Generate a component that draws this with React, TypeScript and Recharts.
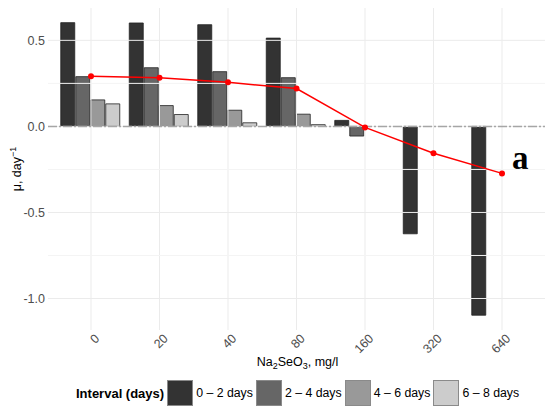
import {
	Bar,
	ComposedChart,
	Customized,
	Line,
	ReferenceLine,
	XAxis,
	YAxis,
} from "recharts";

// Na2SeO3 concentration, mg/l
const doses = ["0", "20", "40", "80", "160", "320", "640"];

// specific growth rate per interval, day^-1 (null = no bar)
const interval02 = [0.603, 0.601, 0.591, 0.513, 0.035, -0.624, -1.097];
const interval24 = [0.289, 0.341, 0.318, 0.283, -0.056, null, null];
const interval46 = [0.154, 0.121, 0.094, 0.071, null, null, null];
const interval68 = [0.131, 0.069, 0.021, 0.01, null, null, null];

// overall mean rate (red line)
const meanRate = [0.291, 0.283, 0.256, 0.22, -0.006, -0.156, -0.273];

const yTicks = [-1, -0.5, 0, 0.5];
const yMinor = [-0.75, -0.25, 0.25];

const intervals = [
	{ key: "i02", label: "0 – 2 days", fill: "#333333" },
	{ key: "i24", label: "2 – 4 days", fill: "#666666" },
	{ key: "i46", label: "4 – 6 days", fill: "#999999" },
	{ key: "i68", label: "6 – 8 days", fill: "#cccccc" },
];

const data = doses.map((dose, i) => ({
	dose,
	i02: interval02[i],
	i24: interval24[i],
	i46: interval46[i],
	i68: interval68[i],
	mean: meanRate[i],
}));

const FONT = "'Liberation Sans', Arial, sans-serif";

const XTick = ({ x, y, payload }: any) => (
	<text
		x={x + 3}
		y={y}
		transform={`rotate(-45 ${x + 3} ${y})`}
		textAnchor="end"
		dy="0.71em"
		fontSize={12.5}
		fontFamily={FONT}
		fill="#4d4d4d"
	>
		{payload.value}
	</text>
);

const XTitle = ({ viewBox }: any) => {
	const cx = viewBox.x + viewBox.width / 2 + 1;
	return (
		<text x={cx} y={366} textAnchor="middle" fontSize={12.5} fontFamily={FONT} fill="#000">
			Na
			<tspan fontSize={9} dy={3}>2</tspan>
			<tspan dy={-3}>SeO</tspan>
			<tspan fontSize={9} dy={3}>3</tspan>
			<tspan dy={-3}>, mg/l</tspan>
		</text>
	);
};

const YTitle = () => (
	<text
		x={21}
		y={169}
		transform="rotate(-90 21 169)"
		textAnchor="middle"
		fontSize={12.5}
		fontFamily={FONT}
		fill="#000"
	>
		μ, day
		<tspan fontSize={9} dy={-5}>−1</tspan>
	</text>
);

const PanelTag = () => (
	<text
		x={512}
		y={169}
		fontSize={33}
		fontWeight="bold"
		fontFamily="'Liberation Serif', 'Times New Roman', serif"
		fill="#000"
	>
		a
	</text>
);

function IntervalLegend() {
	return (
		<div
			style={{
				position: "absolute",
				left: 76,
				top: 380,
				height: 26,
				display: "flex",
				alignItems: "center",
				fontFamily: FONT,
				fontSize: 12.3,
				color: "#000",
				whiteSpace: "nowrap",
			}}
		>
			<span style={{ fontWeight: "bold", fontSize: 13, marginRight: 3 }}>
				Interval (days)
			</span>
			{intervals.map((it) => (
				<span key={it.key} style={{ display: "flex", alignItems: "center" }}>
					<span
						style={{
							width: 24,
							height: 24,
							background: it.fill,
							border: "1px solid #8a8a8a",
							marginRight: 3,
						}}
					/>
					<span style={{ marginRight: 3 }}>{it.label}</span>
				</span>
			))}
		</div>
	);
}

export default function App() {
	return (
		<div
			style={{
				position: "absolute",
				left: 0,
				top: 0,
				width: 550,
				height: 415,
				background: "#fff",
			}}
		>
			<ComposedChart
				width={550}
				height={375}
				data={data}
				margin={{ top: 8, right: 5, bottom: 0, left: 0 }}
				barCategoryGap={4}
				barGap={1}
			>
				{/* panel grid: vertical at each dose, major + minor horizontals */}
				{doses.map((d) => (
					<ReferenceLine key={`v${d}`} x={d} stroke="#ebebeb" strokeWidth={1} />
				))}
				{yTicks.map((v) => (
					<ReferenceLine key={`maj${v}`} y={v} stroke="#ebebeb" strokeWidth={1} />
				))}
				{yMinor.map((v) => (
					<ReferenceLine key={`min${v}`} y={v} stroke="#f4f4f4" strokeWidth={1} />
				))}
				<XAxis
					dataKey="dose"
					height={45}
					padding={{ left: 8.75, right: 8.75 }}
					axisLine={false}
					tickLine={false}
					tickSize={0}
					tickMargin={3}
					interval={0}
					tick={<XTick />}
					label={<XTitle />}
				/>
				<YAxis
					width={48}
					domain={[-1.183, 0.688]}
					ticks={yTicks}
					axisLine={false}
					tickLine={false}
					tickSize={0}
					tickMargin={3}
					tickFormatter={(v) => v.toFixed(1)}
					tick={{ fontSize: 12.5, fontFamily: FONT, fill: "#4d4d4d" }}
					label={<YTitle />}
				/>
				<ReferenceLine
					y={0}
					stroke="#a6a6a6"
					strokeWidth={1.5}
					strokeDasharray="9 2 2 2"
				/>
				{intervals.map((it) => (
					<Bar
						key={it.key}
						dataKey={it.key}
						fill={it.fill}
						stroke="#222222"
						strokeWidth={0.8}
						isAnimationActive={false}
					/>
				))}
				<Line
					dataKey="mean"
					stroke="#ff0000"
					strokeWidth={1.5}
					dot={{ r: 3, fill: "#ff0000", stroke: "#ff0000", strokeWidth: 0 }}
					isAnimationActive={false}
				/>
				<Customized component={<PanelTag />} />
			</ComposedChart>
			<IntervalLegend />
		</div>
	);
}
